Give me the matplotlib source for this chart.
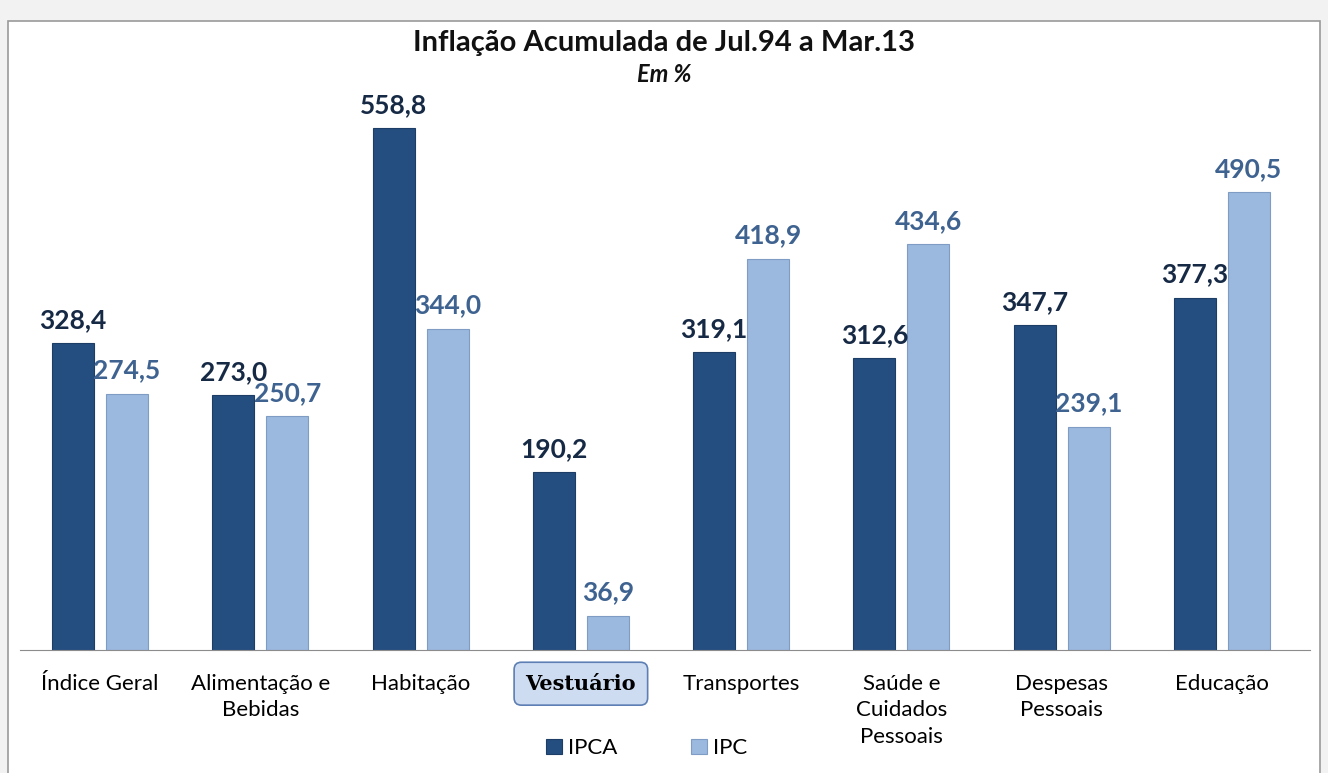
import numpy as np
import matplotlib.pyplot as plt
from matplotlib.patches import Rectangle

# dados
categorias = ['Índice Geral', 'Alimentação e\nBebidas', 'Habitação', 'Vestuário',
              'Transportes', 'Saúde e\nCuidados\nPessoais', 'Despesas\nPessoais', 'Educação']
ipca = [328.4, 273.0, 558.8, 190.2, 319.1, 312.6, 347.7, 377.3]
ipc = [274.5, 250.7, 344.0, 36.9, 418.9, 434.6, 239.1, 490.5]

plt.rcParams['font.family'] = ['Lato', 'DejaVu Sans']

fig = plt.figure(figsize=(13.28, 7.73), dpi=100, facecolor='#f2f2f2')
# painel branco com borda
fig.patches.append(Rectangle((8 / 1328, -0.01), 1312 / 1328, (773 - 21) / 773 + 0.01,
                             transform=fig.transFigure, facecolor='white',
                             edgecolor='#9a9a9a', linewidth=1.2, zorder=-5))

ax = fig.add_axes([20 / 1328, 0.159, 1282 / 1328, 0.725])
ax.set_facecolor('none')

x = np.arange(len(categorias))
w = 0.262
off = 0.168
b1 = ax.bar(x - off, ipca, w, color='#254e80', edgecolor='#1c3d66', linewidth=0.8, label='IPCA')
b2 = ax.bar(x + off, ipc, w, color='#9bb8de', edgecolor='#7f9cc4', linewidth=0.8, label='IPC')

for xi, v in zip(x, ipca):
    ax.text(xi - off, v + 12, f'{v:.1f}'.replace('.', ','), ha='center', va='bottom',
            fontsize=19, fontweight='bold', color='#172a45')
for xi, v in zip(x, ipc):
    ax.text(xi + off, v + 12, f'{v:.1f}'.replace('.', ','), ha='center', va='bottom',
            fontsize=19, fontweight='bold', color='#3f6390')

ax.set_xlim(-0.5, 7.5)
ax.set_ylim(0, 600)
ax.set_yticks([])
for s in ['top', 'right', 'left']:
    ax.spines[s].set_visible(False)
ax.spines['bottom'].set_color('#8c8c8c')
ax.spines['bottom'].set_bounds(-0.5, 7.55)

ax.set_xticks(x)
ax.set_xticklabels(categorias, fontsize=16, va='top', linespacing=1.4)
ax.tick_params(axis='x', length=0, pad=17)
vest = ax.get_xticklabels()[3]
vest.set_fontfamily('DejaVu Serif')
vest.set_fontweight('bold')
vest.set_fontsize(15)
vest.set_bbox(dict(boxstyle='round,pad=0.55,rounding_size=0.35', facecolor='#cddcf1',
                   edgecolor='#5d7fb3', linewidth=1.2))

fig.text(0.5, 0.945, 'Inflação Acumulada de Jul.94 a Mar.13', ha='center', va='center',
         fontsize=21, fontweight='bold', color='#111111')
fig.text(0.5, 0.903, 'Em %', ha='center', va='center', fontsize=17,
         fontweight='bold', fontstyle='italic', color='#111111')

fig.legend(handles=[b1, b2], labels=['IPCA', 'IPC'], loc='center', bbox_to_anchor=(0.487, 0.032),
           ncol=2, frameon=False, fontsize=16, handlelength=0.7, handleheight=0.7,
           columnspacing=3.3, handletextpad=0.3)

fig.savefig('out.png', dpi=100, facecolor=fig.get_facecolor())
